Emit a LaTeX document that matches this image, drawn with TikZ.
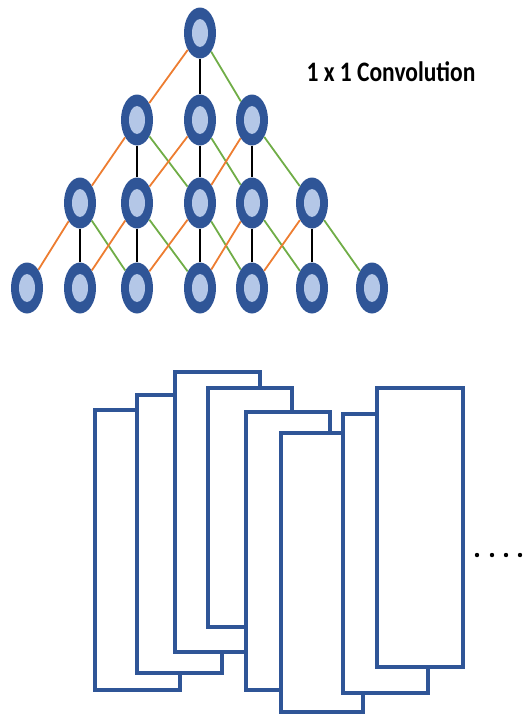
\documentclass[tikz,border=0pt]{standalone}
\usepackage{fontspec}
\newfontfamily\calfont{Carlito}
\usetikzlibrary{shapes.geometric}
\definecolor{unitblue}{RGB}{47,85,151}
\definecolor{unitcore}{RGB}{180,199,231}
\definecolor{linkorange}{RGB}{237,125,49}
\definecolor{linkgreen}{RGB}{112,173,71}

\tikzset{
  neuron/.style={ellipse,fill=unitblue,minimum width=32pt,minimum height=51pt,inner sep=0pt,
    path picture={\fill[unitcore] (path picture bounding box.center) ellipse (8pt and 14pt);}},
  leftlink/.style={linkorange,line width=1.8pt},
  downlink/.style={black,line width=2.2pt},
  rightlink/.style={linkgreen,line width=1.8pt},
  sheet/.style={draw=unitblue,fill=white,line width=3.8pt},
}

\begin{document}
\begin{tikzpicture}[x=1pt,y=-1pt]
  \useasboundingbox (0,0) rectangle (523,716);
  % pyramid of units, row r uses columns 3-r .. 3+r
  \foreach \r/\y in {0/33,1/120,2/203,3/288}{
    \pgfmathtruncatemacro\lo{3-\r}
    \pgfmathtruncatemacro\hi{3+\r}
    \foreach \c in {\lo,...,\hi}{
      \pgfmathsetmacro\xx{{27,80,137,200,252,312,372}[\c]}
      \node[neuron] (n\r-\c) at (\xx,\y) {};
    }
  }
  % each unit feeds three units of the row below
  \foreach \r in {0,1,2}{
    \pgfmathtruncatemacro\s{\r+1}
    \pgfmathtruncatemacro\lo{3-\r}
    \pgfmathtruncatemacro\hi{3+\r}
    \foreach \c in {\lo,...,\hi}{
      \pgfmathtruncatemacro\cl{\c-1}
      \pgfmathtruncatemacro\cr{\c+1}
      \draw[leftlink] (n\r-\c) -- (n\s-\cl);
      \draw[downlink] (n\r-\c) -- (n\s-\c);
      \draw[rightlink] (n\r-\c) -- (n\s-\cr);
    }
  }
  \node[font=\calfont\bfseries\fontsize{23.5}{26}\selectfont,inner sep=0pt] (title) at (391,72)
    {\scalebox{1}[1.2]{1 x 1 Convolution}};

  % stacked feature maps, later ones on top
  \foreach \l/\t/\rr/\b in {95/410/180/690, 137/395/222/673, 175/372/260/652, 208/388/292/627,
                            246/412/330/690, 281/433/363/712, 343/414/428/693, 377/388/463/667}
    \draw[sheet] (\l,\t) rectangle (\rr,\b);
  \foreach \x in {477,492,506,520}
    \fill (\x,555) circle (2.2pt);
\end{tikzpicture}
\end{document}
